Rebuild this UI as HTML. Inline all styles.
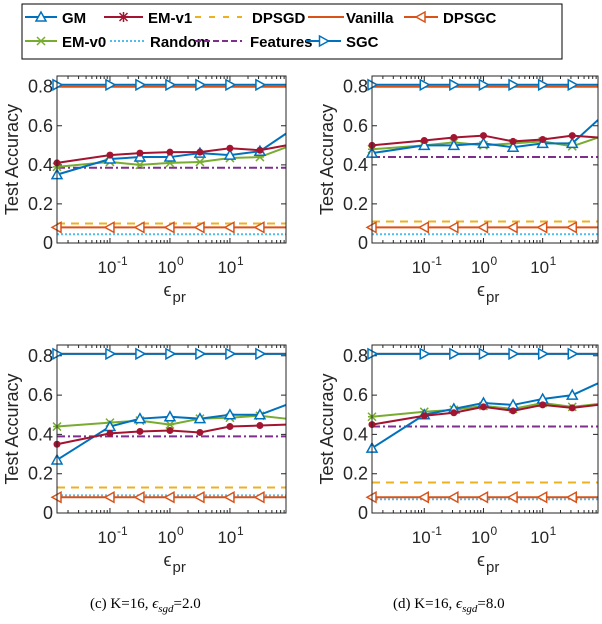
<!DOCTYPE html>
<html><head><meta charset="utf-8"><style>
body{margin:0;background:#fff}
svg{display:block;font-family:"Liberation Sans",sans-serif}
</style></head><body>
<svg id="c" width="602" height="624" viewBox="0 0 602 624" xmlns="http://www.w3.org/2000/svg"></svg>
<script>
const xVals=[0.0131,0.1,0.316,1,3.16,10,31.6,86];
const xTicks=[0.1,1,10];
const xTickLabels=['-1','0','1'];
const yTicks=[0,0.2,0.4,0.6,0.8];
const yTickLabels=['0','0.2','0.4','0.6','0.8'];
const gmA=[0.35,0.43,0.44,0.44,0.46,0.45,0.47,0.56];
const em1A=[0.41,0.45,0.46,0.465,0.465,0.485,0.475,0.50];
const em0A=[0.39,0.415,0.40,0.41,0.415,0.435,0.44,0.49];
const constA=[0.80,0.81,0.385,0.10,0.08,0.045];
const gmB=[0.46,0.50,0.50,0.51,0.49,0.51,0.51,0.63];
const em1B=[0.50,0.525,0.54,0.55,0.52,0.53,0.55,0.54];
const em0B=[0.48,0.50,0.515,0.50,0.51,0.52,0.495,0.54];
const constB=[0.80,0.81,0.44,0.11,0.08,0.045];
const gmC=[0.27,0.44,0.48,0.49,0.48,0.50,0.50,0.55];
const em1C=[0.35,0.405,0.415,0.42,0.41,0.44,0.445,0.45];
const em0C=[0.44,0.46,0.47,0.45,0.48,0.485,0.495,0.48];
const constC=[0.81,0.81,0.39,0.13,0.08,0.09];
const gmD=[0.33,0.50,0.53,0.56,0.55,0.58,0.60,0.66];
const em1D=[0.45,0.495,0.51,0.54,0.52,0.55,0.535,0.55];
const em0D=[0.49,0.515,0.525,0.545,0.53,0.56,0.54,0.555];
const constD=[0.81,0.81,0.44,0.155,0.08,0.07];
// const order: vanilla, sgc, features, dpsgd, dpsgc, random

const NS='http://www.w3.org/2000/svg';
const svg=document.getElementById('c');
function mk(tag,attrs,parent,text){const e=document.createElementNS(NS,tag);for(const k in attrs)e.setAttribute(k,attrs[k]);if(text!==undefined)e.textContent=text;(parent||svg).appendChild(e);return e;}
const C={gm:'#0072BD',em1:'#A2142F',dpsgd:'#EDB120',van:'#D95319',em0:'#77AC30',rnd:'#4DBEEE',feat:'#7E2F8E'};

function marker(g,type,x,y,col){
  let m;
  if(type==='triup'){m=mk('polygon',{points:`${x},${y-5} ${x-5},${y+4} ${x+5},${y+4}`,fill:'#fff',stroke:col,'stroke-width':1.5},g);}
  else if(type==='tril'){m=mk('polygon',{points:`${x-5},${y} ${x+4},${y-5} ${x+4},${y+5}`,fill:'#fff',stroke:col,'stroke-width':1.5},g);}
  else if(type==='trir'){m=mk('polygon',{points:`${x+5},${y} ${x-4},${y-5} ${x-4},${y+5}`,fill:'#fff',stroke:col,'stroke-width':1.5},g);}
  else if(type==='dot'){m=mk('circle',{cx:x,cy:y,r:3.5,fill:col},g);}
  else if(type==='x'){m=mk('path',{d:`M${x-4},${y-4}L${x+4},${y+4}M${x-4},${y+4}L${x+4},${y-4}M${x-4},${y}L${x+4},${y}`,stroke:col,'stroke-width':1.5},g);}
  else if(type==='star'){m=mk('path',{d:`M${x-4},${y-4}L${x+4},${y+4}M${x-4},${y+4}L${x+4},${y-4}M${x-5},${y}L${x+5},${y}M${x},${y-5}L${x},${y+5}`,stroke:col,'stroke-width':1.5},g);}
  
  
}

function panel(id,L,R,T,B,gm,em1,em0,cst){
  const g=mk('g',{},svg);
  
  
  const lx0=Math.log10(xVals[0]),lx1=Math.log10(xVals[xVals.length-1]);
  const sx=v=>L+(Math.log10(v)-lx0)/(lx1-lx0)*(R-L);
  const ymax=0.855;
  const sy=v=>B-v/ymax*(B-T);
  let mt='';
  for(let d=-2;d<=1;d++)for(let k=1;k<10;k++){const v=k*Math.pow(10,d);if(v<xVals[0]||v>xVals[xVals.length-1])continue;const x=sx(v);const len=k===1?5:3;mt+=`M${x},${B}v${-len}M${x},${T}v${len}`;}
  yTicks.forEach(v=>{const y=sy(v);mt+=`M${L},${y}h5M${R},${y}h-5`;});
  const ticks=mk('path',{d:mt,stroke:'#262626','stroke-width':1,fill:'none'},g);
  
  
  yTicks.forEach((v,i)=>{const t=mk('text',{x:L-4,y:sy(v)+6,'text-anchor':'end','font-size':18,fill:'#262626'},g,yTickLabels[i]);
    
    });
  xTicks.forEach((v,i)=>{const t=mk('text',{x:sx(v)-3,y:B+30,'text-anchor':'middle','font-size':17,fill:'#262626'},g,'10');
    
    
    mk('text',{x:sx(v)+7,y:B+22,'font-size':12,fill:'#262626'},g,xTickLabels[i]);});
  const yl=mk('text',{transform:`translate(${L-39},${(T+B)/2}) rotate(-90)`,'text-anchor':'middle','font-size':18,fill:'#262626'},g,'Test Accuracy');
  
  
  const xl=mk('text',{x:(L+R)/2-8,y:B+53,'font-size':18,fill:'#262626'},g,'ϵ');
  
  
  mk('text',{x:(L+R)/2+1,y:B+59,'font-size':15,fill:'#262626'},g,'pr');
  const hline=(v,col,dash,mtype,name)=>{
    const l=mk('line',{x1:L,x2:R,y1:sy(v),y2:sy(v),stroke:col,'stroke-width':2,'stroke-dasharray':dash||'none'},g);
    
    
    if(mtype)xVals.forEach((x,i)=>{if(i<xVals.length-1)marker(g,mtype,sx(x),sy(v),col);});
  };
  hline(cst[5],C.rnd,'2 2',null,'random-line');
  hline(cst[3],C.dpsgd,'8 6',null,'dpsgd-line');
  hline(cst[4],C.van,null,'tril','dpsgc-line');
  hline(cst[2],C.feat,'8 3 2 3',null,'features-line');
  hline(cst[0],C.van,null,null,'vanilla-line');
  hline(cst[1],C.gm,null,'trir','sgc-line');
  const series=(arr,col,mtype,name)=>{
    const p=mk('polyline',{points:arr.map((v,i)=>`${sx(xVals[i])},${sy(v)}`).join(' '),fill:'none',stroke:col,'stroke-width':2},g);
    
    
    arr.forEach((v,i)=>{if(i<arr.length-1)marker(g,mtype,sx(xVals[i]),sy(v),col);});
  };
  series(em0,C.em0,'x','em-v0-line');
  series(gm,C.gm,'triup','gm-line');
  series(em1,C.em1,'dot','em-v1-line');
  const box=mk('rect',{x:L,y:T,width:R-L,height:B-T,fill:'none',stroke:'#262626','stroke-width':1},g);
  
  
}
panel('panel-a',57,286,76,243,gmA,em1A,em0A,constA);
panel('panel-b',372,598,76,243,gmB,em1B,em0B,constB);
panel('panel-c',57,286,345,513,gmC,em1C,em0C,constC);
panel('panel-d',372,598,345,513,gmD,em1D,em0D,constD);

const lg=mk('g',{},svg);


mk('rect',{x:22,y:4,width:540,height:55,fill:'#fff',stroke:'#000','stroke-width':1},lg);
const entries=[
 ['GM',C.gm,null,'triup',25,57,62,17],['EM-v1',C.em1,null,'star',104,143,148,17],['DPSGD',C.dpsgd,'6 8',null,195,242,252,17],['Vanilla',C.van,null,null,308,344,346,17],['DPSGC',C.van,null,'tril',404,438,443,17],
 ['EM-v0',C.em0,null,'x',25,57,62,41],['Random',C.rnd,'2 2',null,110,146,150,41],['Features',C.feat,'6 3',null,195,242,250,41],['SGC',C.gm,null,'trir',306,341,346,41]];
entries.forEach(e=>{
  const eg=mk('g',{},lg);
  
  
  const y=e[7];
  mk('line',{x1:e[4],x2:e[5],y1:y,y2:y,stroke:e[1],'stroke-width':2,'stroke-dasharray':e[2]||'none'},eg);
  if(e[3])marker(eg,e[3],(e[4]+e[5])/2,y,e[1]);
  mk('text',{x:e[6],y:y+6,'font-size':15,'font-weight':'bold',fill:'#000'},eg,e[0]);
});

const cap=(x,lab,val,name)=>{
  const t=mk('text',{x:x,y:608,'font-family':'"Liberation Serif",serif','font-size':15,fill:'#000'},svg);
  
  
  t.innerHTML=`(${lab}) K=16, <tspan font-style="italic">ϵ</tspan><tspan font-size="11" dy="4" font-style="italic">sgd</tspan><tspan dy="-4">=${val}</tspan>`;
};
cap(90,'c','2.0','caption-c');
cap(393,'d','8.0','caption-d');
</script>
</body></html>
